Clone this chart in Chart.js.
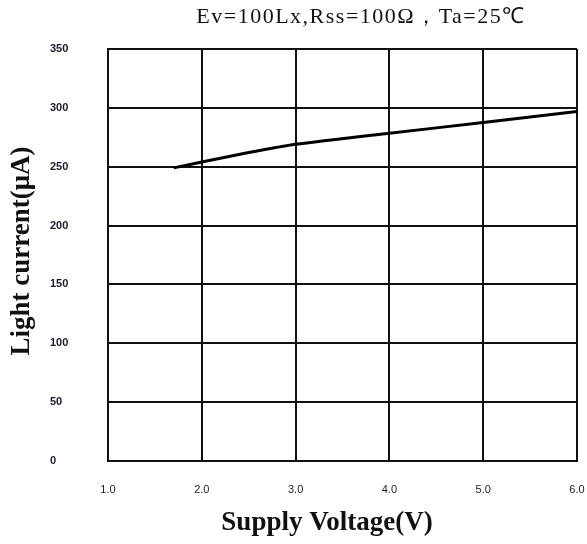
<!DOCTYPE html>
<html>
<head>
<meta charset="utf-8">
<script src="https://cdn.jsdelivr.net/npm/chart.js@4.4.1/dist/chart.umd.min.js"></script>
<style>
  html, body { margin: 0; padding: 0; background: #fff; }
  #wrap { width: 587px; height: 544px; }
</style>
</head>
<body>
<div id="wrap"><canvas id="lightChart" width="587" height="544"></canvas></div>
<script>
// supply voltage (V) vs light current (uA)
const voltage = [1.7, 2.0, 2.5, 3.0, 4.0, 5.0, 6.0]
const lightCurrent = [249, 254, 262, 269, 278.5, 287.5, 297]

const xTicks = [1, 2, 3, 4, 5, 6]
const yTicks = [0, 50, 100, 150, 200, 250, 300, 350]

const chartTitle = 'Ev=100Lx,Rss=100Ω，Ta=25℃'
const xTitle = 'Supply Voltage(V)'
const yTitle = 'Light current(μA)'

// axis titles are drawn by hand, the layout of the datasheet is not what chart.js does by default
const titlesPlugin = {
    id: 'titles',
    afterDraw: function (chart) {
        let ctx = chart.ctx
        let area = chart.chartArea
        ctx.save()
        ctx.fillStyle = '#111'
        ctx.textBaseline = 'middle'
        ctx.textAlign = 'center'

        ctx.font = '22px "Liberation Serif", serif'
        ctx.letterSpacing = '1.5px'
        ctx.fillText(chartTitle, area.left + 253, 17)
        ctx.letterSpacing = '0px'

        ctx.font = 'bold 27px "Liberation Serif", serif'
        ctx.fillText(xTitle, area.left + 219, 523)

        ctx.translate(22, area.top + 202)
        ctx.rotate(-Math.PI / 2)
        ctx.fillText(yTitle, 0, 0)
        ctx.restore()
    }
}

const points = voltage.map(function (v, i) { return { x: v, y: lightCurrent[i] } })

new Chart(document.getElementById('lightChart'), {
    type: 'line',
    data: {
        datasets: [{
            data: points,
            borderColor: '#000',
            borderWidth: 3,
            pointRadius: 0,
            tension: 0.2,
            fill: false
        }]
    },
    options: {
        responsive: false,
        animation: false,
        layout: { padding: { top: 49, left: 50, right: 10, bottom: 0 } },
        plugins: {
            legend: { display: false },
            tooltip: { enabled: false }
        },
        scales: {
            x: {
                type: 'linear',
                min: 1,
                max: 6,
                afterBuildTicks: function (scale) {
                    scale.ticks = xTicks.map(function (v) { return { value: v } })
                },
                afterFit: function (scale) {
                    scale.height = 83
                    scale.paddingLeft = 0
                    scale.paddingRight = 0
                },
                ticks: {
                    padding: 22,
                    maxRotation: 0,
                    color: '#1a1a2e',
                    font: { family: '"Liberation Sans", sans-serif', size: 11 },
                    callback: function (v) { return Number(v).toFixed(1) }
                },
                grid: { color: '#111', lineWidth: 2, drawTicks: false },
                border: { color: '#111', width: 2 }
            },
            y: {
                min: 0,
                max: 350,
                afterBuildTicks: function (scale) {
                    scale.ticks = yTicks.map(function (v) { return { value: v } })
                },
                afterFit: function (scale) {
                    scale.width = 58
                },
                ticks: {
                    crossAlign: 'far',
                    color: '#1a1a2e',
                    font: { family: '"Liberation Sans", sans-serif', size: 11, weight: 'bold' }
                },
                grid: { color: '#111', lineWidth: 2, drawTicks: false },
                border: { color: '#111', width: 2 }
            }
        }
    },
    plugins: [titlesPlugin]
})
</script>
</body>
</html>
